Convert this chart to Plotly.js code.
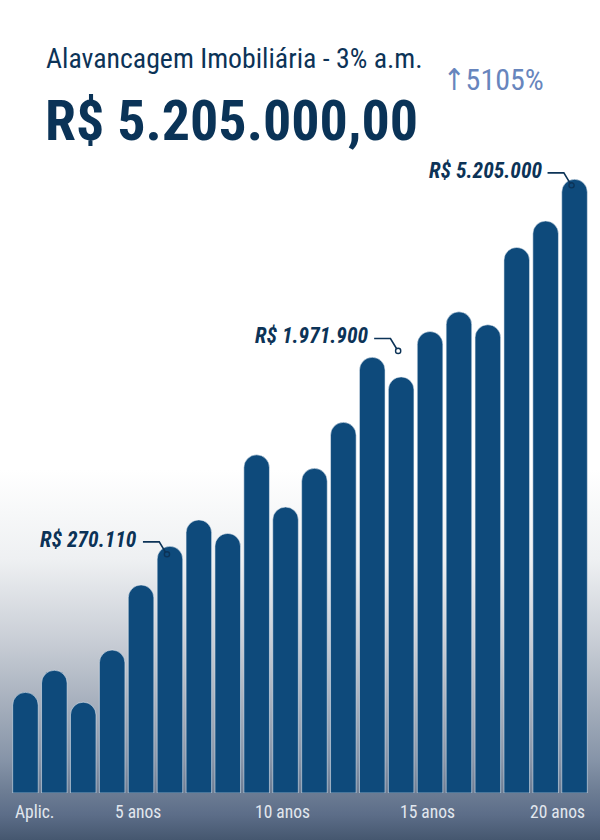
<!DOCTYPE html>
<html>
<head>
<meta charset="utf-8">
<script src="https://cdn.plot.ly/plotly-3.0.1.min.js"></script>
<style>
  html, body { margin: 0; padding: 0; }
  #grafico {
    width: 600px; height: 840px;
    background: linear-gradient(to bottom, #ffffff 0px, #ffffff 470px, #eef0f2 560px,
      #c9ced6 640px, #a8b1be 700px, #8694a8 760px, #6e7e95 790px, #5c6d88 815px, #45576f 840px);
  }
</style>
</head>
<body>
<div id="grafico"></div>
<script>
// altura relativa de cada barra (ultima = 100)
const indice = [16.4, 20.0, 14.8, 23.3, 33.9, 40.2, 44.5, 42.3, 55.1, 46.6,
                52.9, 60.4, 71.0, 67.8, 75.2, 78.4, 76.3, 88.9, 93.2, 100];
const barras = indice.map((v, i) => i);

// rotulos do eixo x
const rotulos = ['Aplic.', '5 anos', '10 anos', '15 anos', '20 anos'];
const rotuloPos = [0, 4, 9, 14, 19];

// destaques
const destaqueIdx = [5, 13, 19];
const destaqueTxt = ['R$ 270.110', 'R$ 1.971.900', 'R$ 5.205.000'];

const titulo = 'Alavancagem Imobiliária - 3% a.m.';
const total = 'R$ 5.205.000,00';
const variacao = '↑5105%';

const fonte = '"Roboto Condensed", "Liberation Sans Narrow", "DejaVu Sans Condensed", Roboto, sans-serif';
const azul = '#0e4a7b';
const escuro = '#0c3357';

const m = {l: 11, r: 11, t: 0, b: 47};
const plotW = 600 - m.l - m.r, plotH = 840 - m.t - m.b;
const px = x => (x - m.l) / plotW;          // pixel -> paper x
const py = y => (plotH + m.t - y) / plotH;  // pixel -> paper y

// deslocamento vertical (px) do ponto do destaque em relacao ao topo da barra
const destaqueDy = [-8, 26, -6];

const trace = {
  type: 'bar',
  x: barras,
  y: indice,
  width: 0.885,
  marker: {
    color: azul,
    cornerradius: '50%',
    line: {color: 'rgba(235,240,246,0.55)', width: 1}
  },
  hoverinfo: 'skip'
};

const annotations = [
  {xref: 'paper', yref: 'paper', x: px(44), y: py(59), xanchor: 'left', yanchor: 'middle',
   text: titulo, showarrow: false, font: {family: fonte, size: 27.8, color: escuro}},
  {xref: 'paper', yref: 'paper', x: px(43), y: py(121), xanchor: 'left', yanchor: 'middle',
   text: total, showarrow: false, font: {family: fonte, size: 56, weight: 700, color: '#0a3357'}},
  {xref: 'paper', yref: 'paper', x: px(441), y: py(80), xanchor: 'left', yanchor: 'middle',
   text: variacao, showarrow: false, font: {family: fonte, size: 30, color: '#6785bd'}}
];

rotulos.forEach((t, k) => {
  const i = rotuloPos[k];
  let anchor = 'center', x = i, sx = -3;
  if (k === 0) { anchor = 'left'; x = i - 0.44; sx = 0; }
  if (k === rotulos.length - 1) { anchor = 'right'; x = i + 0.44; sx = 0; }
  annotations.push({xref: 'x', yref: 'paper', x: x, y: 0, xanchor: anchor, yanchor: 'top',
    xshift: sx, yshift: -7, text: t, showarrow: false, font: {family: fonte, size: 17.5, color: '#e2e7ee'}});
});

const shapes = [];
destaqueIdx.forEach((i, k) => {
  const dx = -3, dy = destaqueDy[k];
  annotations.push({xref: 'x', yref: 'y', x: i, y: indice[i], xanchor: 'right', yanchor: 'middle',
    xshift: dx - 28, yshift: dy + 15, text: destaqueTxt[k], showarrow: false,
    font: {family: fonte, size: 21.5, weight: 700, style: 'italic', color: escuro, shadow: '0 0 2px #ffffff'}});
  shapes.push({type: 'path', xref: 'x', yref: 'y', xsizemode: 'pixel', ysizemode: 'pixel',
    xanchor: i, yanchor: indice[i],
    path: `M ${dx - 24} ${dy + 12.4} L ${dx - 7.7} ${dy + 12.4} L ${dx - 1.5} ${dy + 2.2}`,
    line: {color: escuro, width: 1.6}});
  shapes.push({type: 'circle', xref: 'x', yref: 'y', xsizemode: 'pixel', ysizemode: 'pixel',
    xanchor: i, yanchor: indice[i], x0: dx - 2.6, x1: dx + 2.6, y0: dy - 2.6, y1: dy + 2.6,
    line: {color: escuro, width: 1.4}, fillcolor: 'rgba(0,0,0,0)'});
});

const layout = {
  width: 600, height: 840,
  margin: m,
  paper_bgcolor: 'rgba(0,0,0,0)',
  plot_bgcolor: 'rgba(0,0,0,0)',
  showlegend: false,
  bargap: 0.115,
  xaxis: {range: [-0.5, 19.5], showgrid: false, zeroline: false, showticklabels: false, ticks: ''},
  yaxis: {range: [0, 100 * plotH / 613.7], showgrid: false, zeroline: false, showticklabels: false, ticks: ''},
  annotations: annotations,
  shapes: shapes
};

Plotly.newPlot('grafico', [trace], layout, {displayModeBar: false, staticPlot: true});
</script>
</body>
</html>
